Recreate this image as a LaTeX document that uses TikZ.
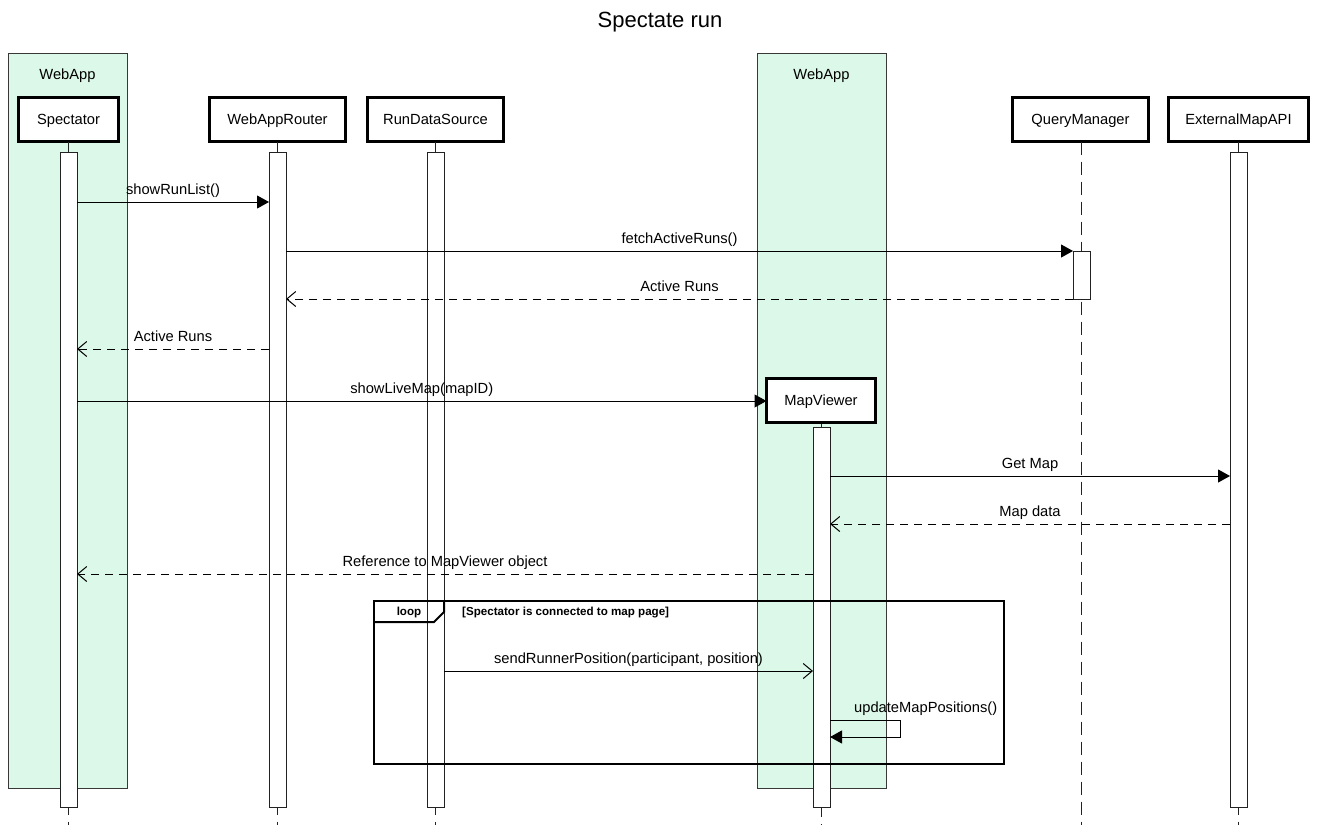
\documentclass[tikz,border=0pt]{standalone}
\usepackage{fontspec}
\setmainfont{Liberation Sans}
\usetikzlibrary{arrows.meta}
\definecolor{groupgreen}{HTML}{DBF8E8}
\definecolor{ink}{HTML}{222222}

\tikzset{
  sz/.style={font=\fontsize{14.7}{17}\selectfont},
  grp/.style={draw=ink!90, fill=groupgreen, line width=1pt, anchor=north west, inner sep=0pt, outer sep=0pt},
  actor/.style={draw=black, line width=2.6pt, fill=white, sz, minimum height=44pt, inner sep=0pt, outer sep=0pt, text height=10.5pt, text depth=0pt},
  lifeline/.style={draw=ink, line width=1.5pt, dash pattern=on 13pt off 7pt},
  actbar/.style={draw=ink, fill=white, line width=1pt, minimum width=17pt, inner sep=0pt, outer sep=0pt, anchor=north},
  msg/.style={draw=black, line width=1pt, -{Triangle[length=12pt,width=13pt]}},
  reply/.style={draw=black, line width=1pt, dash pattern=on 8pt off 6pt, -{Straight Barb[length=9pt,width=15pt,line width=1pt]}},
  async/.style={draw=black, line width=1pt, -{Straight Barb[length=9pt,width=15pt,line width=1pt]}},
  lbl/.style={sz, anchor=base, inner sep=0pt, yshift=8pt},
  frame/.style={draw=black, line width=2pt},
  guard/.style={font=\fontsize{11.6}{13}\selectfont\bfseries, inner sep=0pt, anchor=base west},
}

\begin{document}
\begin{tikzpicture}[x=1pt,y=-1pt]
\useasboundingbox (0,0) rectangle (1320,825);

% title
\node[font=\fontsize{22}{26}\selectfont, anchor=base, inner sep=0pt] (title) at (660,27) {Spectate run};

% grouping boxes
\node[grp, minimum width=119pt, minimum height=735pt] (grpA) at (8,53) {};
\node[grp, minimum width=129pt, minimum height=735pt] (grpB) at (757,53) {};
\node[sz, anchor=base, inner sep=0pt] (grpAlbl) at (67.5,79) {WebApp};
\node[sz, anchor=base, inner sep=0pt] (grpBlbl) at (821.5,79) {WebApp};

% participants
\node[actor, minimum width=100pt] (spec)   at (68.5,119.5)  {Spectator};
\node[actor, minimum width=136pt] (router) at (277.5,119.5) {WebAppRouter};
\node[actor, minimum width=136pt] (rds)    at (435.5,119.5) {RunDataSource};
\node[actor, minimum width=136pt] (qm)     at (1080.5,119.5) {QueryManager};
\node[actor, minimum width=140pt] (ext)    at (1238.5,119.5) {ExternalMapAPI};

% lifelines
\coordinate (specEnd)   at (68.5,825);
\coordinate (routerEnd) at (277.5,825);
\coordinate (rdsEnd)    at (435.5,825);
\coordinate (qmEnd)     at (1081.5,825);
\coordinate (extEnd)    at (1238.5,825);
\coordinate (mvEnd)     at (821.5,825);
\draw[lifeline] (spec.south) -- (specEnd);
\draw[lifeline] (router.south) -- (routerEnd);
\draw[lifeline] (rds.south) -- (rdsEnd);
\draw[lifeline] (qm.south -| qmEnd) -- (qmEnd);
\draw[lifeline] (ext.south) -- (extEnd);
\draw[lifeline] (821.5,424) -- (mvEnd);

% activation bars
\node[actbar, minimum height=655pt] (specbar)   at (68.5,152) {};
\node[actbar, minimum height=655pt] (routerbar) at (277.5,152) {};
\node[actbar, minimum height=655pt] (rdsbar)    at (435.5,152) {};
\node[actbar, minimum height=655pt] (extbar)    at (1238.5,152) {};
\node[actbar, minimum height=48pt]  (qmbar)     at (1081.5,251) {};
\node[actbar, minimum height=380pt] (mvbar)     at (821.5,427) {};

% created participant
\node[actor, minimum width=109pt] (mv) at (821,400.5) {MapViewer};

% messages
\draw[msg] (specbar.east |- 0,202) -- node[lbl] {showRunList()} (routerbar.west |- 0,202);
\draw[msg] (routerbar.east |- 0,251) -- node[lbl] {fetchActiveRuns()} (qmbar.west |- 0,251);
\draw[reply] (qmbar.west |- 0,299) -- node[lbl] {Active Runs} (routerbar.east |- 0,299);
\draw[reply] (routerbar.west |- 0,349) -- node[lbl] {Active Runs} (specbar.east |- 0,349);
\draw[msg] (specbar.east |- 0,401) -- node[lbl] {showLiveMap(mapID)} (mv.west |- 0,401);
\draw[msg] (mvbar.east |- 0,476) -- node[lbl] {Get Map} (extbar.west |- 0,476);
\draw[reply] (extbar.west |- 0,524) -- node[lbl] {Map data} (mvbar.east |- 0,524);
\draw[reply] (mvbar.west |- 0,574) -- node[lbl] {Reference to MapViewer object} (specbar.east |- 0,574);

% loop fragment
\draw[frame] (374,601) rectangle (1004,764);
\draw[frame] (374,622) -- (434,622) -- (444,612) -- (444,601);
\node[font=\fontsize{11.6}{13}\selectfont\bfseries, anchor=base, inner sep=0pt] (looplbl) at (409,615) {loop};
\node[guard] (guardlbl) at (462,615) {[Spectator is connected to map page]};

\draw[async] (rdsbar.east |- 0,671) -- node[lbl] {sendRunnerPosition(participant, position)} (mvbar.west |- 0,671);

% self call
\coordinate (selfA) at (900,720);
\coordinate (selfB) at (900,737);
\draw[msg] (mvbar.east |- selfA) -- (selfA) -- (selfB) -- (mvbar.east |- selfB);
\node[sz, anchor=base west, inner sep=0pt] (selflbl) at (854,712) {updateMapPositions()};

\end{tikzpicture}
\end{document}
